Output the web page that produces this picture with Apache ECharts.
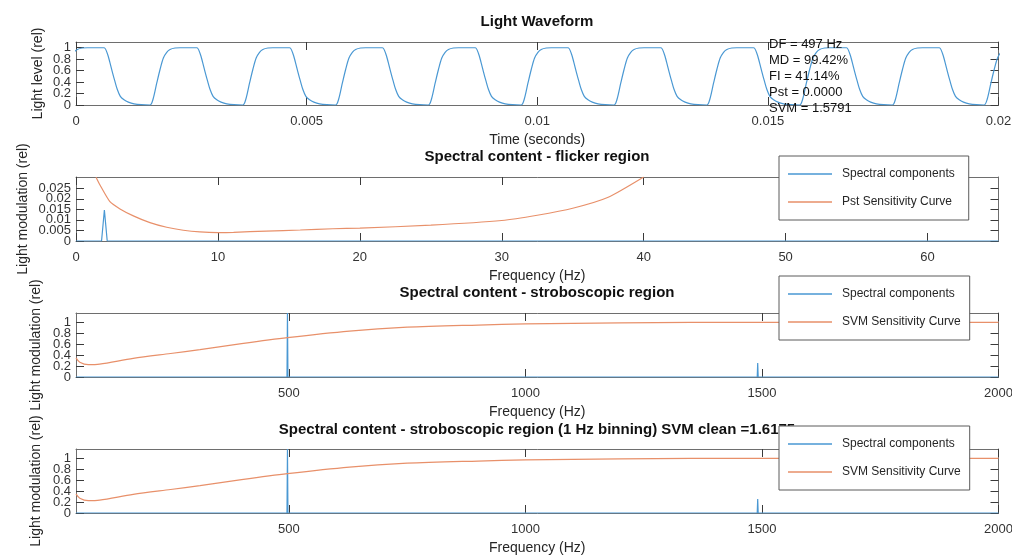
<!DOCTYPE html>
<html>
<head>
<meta charset="utf-8">
<script src="https://cdn.jsdelivr.net/npm/echarts@6/dist/echarts.min.js"></script>
<style>
html,body{margin:0;padding:0;background:#fff;}
#chart{width:1012px;height:556px;}
</style>
</head>
<body>
<div id="chart"></div>
<script>
// ---------------- DATA ----------------
// Light waveform: start time (s) of each rising edge, and the shape of one cycle
const waveRiseTimes = [-0.000406, 0.001605, 0.003617, 0.005629, 0.007641, 0.009653, 0.011665, 0.013677, 0.015689, 0.017701, 0.019690];
const cycleOffsetsMs = [0, 0.065, 0.145, 0.217, 0.289, 0.362, 0.434, 0.542, 0.651, 1.013, 1.085, 1.139, 1.193, 1.247, 1.302, 1.367, 1.447, 1.540, 1.664, 1.822];
const cycleLevels    = [0, 0.10, 0.38, 0.62, 0.82, 0.92, 0.97, 0.995, 1.0, 1.0, 0.90, 0.75, 0.58, 0.42, 0.27, 0.15, 0.09, 0.05, 0.02, 0.005];

// Flicker region spectrum
const flickFreq = [0, 1.8, 2.0, 2.2, 65];
const flickVal  = [0, 0, 0.0147, 0, 0];
// Pst sensitivity curve
const pstFreq = [1.41, 1.69, 2.39, 3.10, 4.04, 5.21, 6.39, 7.56, 8.73, 10.0, 11.1, 13.4, 15.8, 18.1, 20, 25, 30, 32.5, 35, 37.5, 40];
const pstVal  = [0.0302, 0.0265, 0.0186, 0.0152, 0.0119, 0.0087, 0.0065, 0.0051, 0.0043, 0.0040, 0.0041, 0.0047, 0.0052, 0.0058, 0.0061, 0.0075, 0.0097, 0.0122, 0.0155, 0.0207, 0.0303];

// Stroboscopic region spectrum (same in both lower panels)
const strobeFreq = [50, 496, 497, 498, 1490, 1491, 1492, 2000];
const strobeVal  = [0, 0, 1.17, 0, 0, 0.256, 0, 0];
const strobeBinnedVal = [0, 0, 1.17, 0, 0, 0.256, 0, 0];
// SVM sensitivity curve
const svmFreq = [50, 58, 76, 100, 171, 250, 312, 400, 497, 628, 750, 900, 1000, 1200, 1500, 2000];
const svmVal  = [0.35, 0.27, 0.225, 0.235, 0.34, 0.43, 0.50, 0.61, 0.72, 0.84, 0.91, 0.95, 0.97, 0.99, 1.0, 1.0];

// Tick values
const xTicksWave = [0, 0.005, 0.01, 0.015, 0.02];
const yTicksWave = [0, 0.2, 0.4, 0.6, 0.8, 1];
const xTicksFlick = [0, 10, 20, 30, 40, 50, 60];
const yTicksFlick = [0, 0.005, 0.01, 0.015, 0.02, 0.025];
const xTicksStrobe = [500, 1000, 1500, 2000];
const yTicksStrobe = [0, 0.2, 0.4, 0.6, 0.8, 1];

// Annotation text
const annotationLines = ['DF = 497 Hz', 'MD = 99.42%', 'FI = 41.14%', 'Pst = 0.0000', 'SVM = 1.5791'];
const titles = ['Light Waveform', 'Spectral content - flicker region', 'Spectral content - stroboscopic region', 'Spectral content - stroboscopic region (1 Hz binning) SVM clean =1.6175'];

// ---------------- BUILD ----------------
const wavePoints = [];
waveRiseTimes.forEach(t0 => {
  cycleOffsetsMs.forEach((o, i) => wavePoints.push([t0 + o / 1000, cycleLevels[i]]));
});
const zip = (a, b) => a.map((v, i) => [v, b[i]]);

const BLUE = '#4a98d3', ORANGE = '#e8906a';
const AXIS = '#6e6e6e', TICK = '#3a3a3a', LABEL = '#333333';
const FONT = '"Liberation Sans", Arial, Helvetica, sans-serif';

const grids = [
  {left: 76, width: 922.5, top: 42, height: 63, outerBoundsMode: 'none', containLabel: false},
  {left: 76, width: 922.5, top: 177, height: 64, outerBoundsMode: 'none', containLabel: false},
  {left: 76, width: 922.5, top: 313, height: 64, outerBoundsMode: 'none', containLabel: false},
  {left: 76, width: 922.5, top: 449, height: 64, outerBoundsMode: 'none', containLabel: false}
];

const fmt = v => String(v);
const xAxes = [], yAxes = [];
function addAxes(g, xmin, xmax, xticks, ymin, ymax, yticks, xname, yname, yNameGap) {
  const common = {
    gridIndex: g, type: 'value', splitLine: {show: false},
    axisLine: {show: true, onZero: false, lineStyle: {color: AXIS, width: 1}},
  };
  const labelStyle = {margin: 5, fontSize: 13, color: LABEL, fontFamily: FONT,
                      showMinLabel: true, showMaxLabel: true, hideOverlap: false, formatter: fmt};
  xAxes.push(Object.assign({}, common, {
    min: xmin, max: xmax, position: 'bottom',
    name: xname, nameLocation: 'middle', nameGap: 28, nameMoveOverlap: false,
    nameTextStyle: {fontSize: 14, color: '#262626', fontFamily: FONT},
    axisTick: {show: true, inside: true, length: 8, customValues: xticks, lineStyle: {color: TICK}},
    axisLabel: Object.assign({}, labelStyle, {customValues: xticks, margin: 10})
  }));
  xAxes.push(Object.assign({}, common, {
    min: xmin, max: xmax, position: 'top',
    axisTick: {show: true, inside: true, length: 8, customValues: xticks, lineStyle: {color: TICK}},
    axisLabel: {show: false}
  }));
  // left axis: line, all ticks, labels of even-index ticks
  yAxes.push(Object.assign({}, common, {
    min: ymin, max: ymax, position: 'left',
    name: yname, nameLocation: 'middle', nameGap: yNameGap, nameMoveOverlap: false,
    nameTextStyle: {fontSize: 14, color: '#262626', fontFamily: FONT},
    axisTick: {show: true, inside: true, length: 8, customValues: yticks, lineStyle: {color: TICK}},
    axisLabel: Object.assign({}, labelStyle, {customValues: yticks.filter((v, i) => i % 2 === 0)})
  }));
  // right axis: line and ticks only
  yAxes.push(Object.assign({}, common, {
    min: ymin, max: ymax, position: 'right',
    axisTick: {show: true, inside: true, length: 8, customValues: yticks, lineStyle: {color: TICK}},
    axisLabel: {show: false}
  }));
  // second left axis: labels of odd-index ticks only (avoids automatic hiding of crowded labels)
  yAxes.push(Object.assign({}, common, {
    min: ymin, max: ymax, position: 'left', offset: 0,
    axisLine: {show: false}, axisTick: {show: false},
    axisLabel: Object.assign({}, labelStyle, {customValues: yticks.filter((v, i) => i % 2 === 1)})
  }));
}
addAxes(0, 0, 0.02, xTicksWave, 0, 1.1, yTicksWave, 'Time (seconds)', 'Light level (rel)', 31);
addAxes(1, 0, 65, xTicksFlick, 0, 0.0303, yTicksFlick, 'Frequency (Hz)', 'Light modulation (rel)', 46);
addAxes(2, 50, 2000, xTicksStrobe, 0, 1.17, yTicksStrobe, 'Frequency (Hz)', 'Light modulation (rel)', 33);
addAxes(3, 50, 2000, xTicksStrobe, 0, 1.17, yTicksStrobe, 'Frequency (Hz)', 'Light modulation (rel)', 33);

function line(name, data, g, color) {
  return {
    name, type: 'line', data, xAxisIndex: g * 2, yAxisIndex: g * 3,
    symbol: 'none', showSymbol: false, clip: true, animation: false,
    lineStyle: {color, width: 1.2}, itemStyle: {color}
  };
}
const series = [
  Object.assign(line('Light waveform', wavePoints, 0, BLUE), {smooth: 0.3}),
  line('Spectral components', zip(flickFreq, flickVal), 1, BLUE),
  Object.assign(line('Pst Sensitivity Curve', zip(pstFreq, pstVal), 1, ORANGE), {smooth: 0.2}),
  line('Spectral components', zip(strobeFreq, strobeVal), 2, BLUE),
  Object.assign(line('SVM Sensitivity Curve', zip(svmFreq, svmVal), 2, ORANGE), {smooth: 0.3}),
  line('Spectral components', zip(strobeFreq, strobeBinnedVal), 3, BLUE),
  Object.assign(line('SVM Sensitivity Curve', zip(svmFreq, svmVal), 3, ORANGE), {smooth: 0.3})
];

// thin horizontal bar centred in a 44x14 box (tiny corner specks fix the bounding box)
const LINE_ICON = 'path://M0,0H0.01V0.01H0Z M0,6.3H44V7.7H0Z M43.99,13.99H44V14H43.99Z';
function legend(top, names, padRight) {
  return {
    orient: 'vertical', left: 779, top, z: 20, selectedMode: false,
    data: names, icon: LINE_ICON, backgroundColor: '#fff', borderColor: '#5a5a5a', borderWidth: 1, borderRadius: 0,
    padding: [11, padRight, 11, 9], itemWidth: 44, itemHeight: 14, itemGap: 14,
    textStyle: {fontSize: 12, color: '#262626', fontFamily: FONT, padding: [0, 0, 0, 5]}
  };
}

const titleTops = [14, 149, 285, 422];
const option = {
  backgroundColor: '#fff',
  animation: false,
  textStyle: {fontFamily: FONT},
  title: titles.map((t, i) => ({
    text: t, left: 537, top: titleTops[i], textAlign: 'center', padding: 0, z: 1,
    textStyle: {fontSize: 15, fontWeight: 'bold', color: '#111', fontFamily: FONT}
  })),
  grid: grids,
  xAxis: xAxes,
  yAxis: yAxes,
  legend: [
    legend(156, ['Spectral components', 'Pst Sensitivity Curve'], 14),
    legend(276, ['Spectral components', 'SVM Sensitivity Curve'], 9),
    legend(426, ['Spectral components', 'SVM Sensitivity Curve'], 9)
  ],
  graphic: [{
    type: 'text', left: 769, top: 37, z: 50,
    style: {text: annotationLines.join('\n'), fontSize: 13, lineHeight: 15.8, fill: '#111', fontFamily: FONT}
  }],
  series
};
const chart = echarts.init(document.getElementById('chart'), null, {renderer: 'canvas'});
chart.setOption(option);
</script>
</body>
</html>
